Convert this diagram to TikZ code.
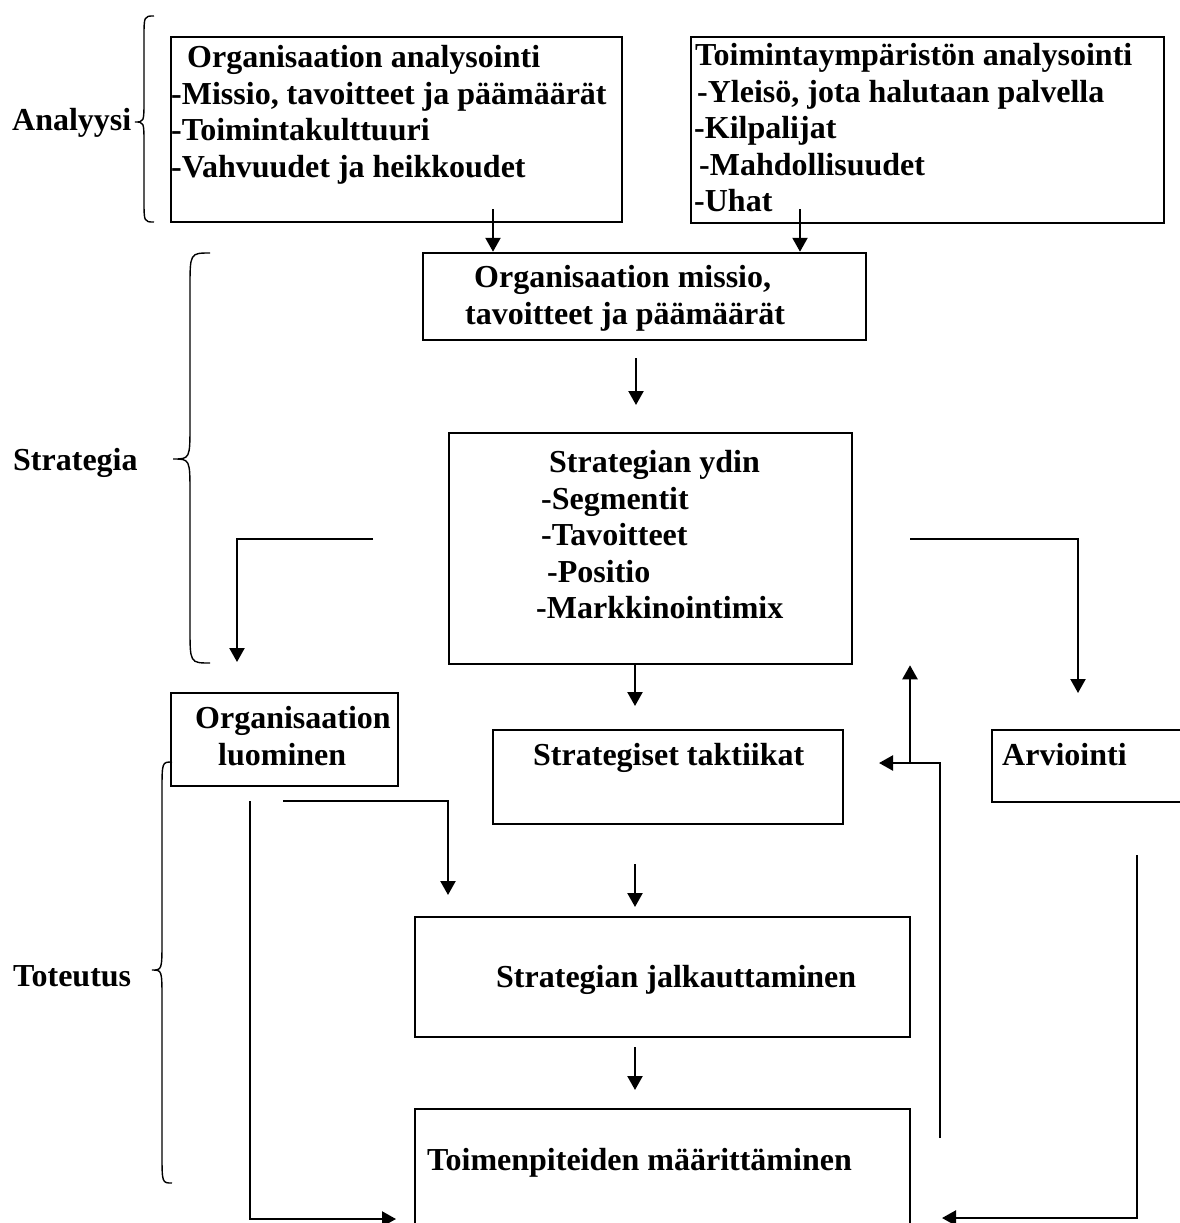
\documentclass[tikz,border=0pt]{standalone}
\usepackage{fontspec}
\setmainfont{Liberation Serif}
\usetikzlibrary{arrows.meta}
\tikzstyle{box}=[draw=black,line width=2.5pt,inner sep=0pt]
\tikzstyle{txt}=[inner sep=0pt,anchor=north west,align=left,
                 font=\fontsize{32}{36.6}\selectfont\bfseries]
\tikzstyle{arr}=[line width=2.3pt,-{Triangle[length=14pt,width=15pt]}]
\tikzstyle{brace}=[line width=1.4pt]

\begin{document}
\begin{tikzpicture}[x=1pt,y=-1pt]
    \useasboundingbox (0,0) rectangle (1180,1223);
    \newcommand{\brc}[7]{\draw[brace] (#1,#4) .. controls (#2,#4) .. (#2,#4+#7)
        -- (#2,#5-#7) .. controls (#2,#5) .. (#3,#5) .. controls (#2,#5) .. (#2,#5+#7)
        -- (#2,#6-#7) .. controls (#2,#6) .. (#1,#6);}
    % boxes
    \node (a1) at (396.5,129.5) [box,minimum width=451pt,minimum height=185pt]{};
    \node (a2) at (927.5,130) [box,minimum width=473pt,minimum height=186pt]{};
    \node (m) at (644.5,296.5) [box,minimum width=443pt,minimum height=87pt]{};
    \node (core) at (650.5,548.5) [box,minimum width=403pt,minimum height=231pt]{};
    \node (ol) at (284.5,739.5) [box,minimum width=227pt,minimum height=93pt]{};
    \node (st) at (668,777) [box,minimum width=350pt,minimum height=94pt]{};
    \node (arv) at (1092,766) [box,minimum width=200pt,minimum height=72pt]{};
    \node (sj) at (662.5,977) [box,minimum width=495pt,minimum height=120pt]{};
    \node (tm) at (662.5,1174.5) [box,minimum width=495pt,minimum height=131pt]{};
    % texts
    \node (a1t) at (171,45) [txt]{\hspace*{16pt}Organisaation analysointi\\
        -Missio, tavoitteet ja päämäärät\\-Toimintakulttuuri\\-Vahvuudet ja heikkoudet};
    \node (a2t) at (694,43) [txt]{\hspace*{1pt}Toimintaympäristön analysointi\\
        \hspace*{3pt}-Yleisö, jota halutaan palvella\\-Kilpalijat\\
        \hspace*{5pt}-Mahdollisuudet\\-Uhat};
    \node (mt) at (465,265) [txt]{\hspace*{9pt}Organisaation missio,\\tavoitteet ja päämäärät};
    \node (coret) at (536,450) [txt]{\hspace*{13pt}Strategian ydin\\\hspace*{5pt}-Segmentit\\
        \hspace*{5pt}-Tavoitteet\\\hspace*{11pt}-Positio\\-Markkinointimix};
    \node (olt) at (195,706) [txt]{Organisaation\\\hspace*{23pt}luominen};
    \node (stt) at (533,743) [txt]{Strategiset taktiikat};
    \node (arvt) at (1002,743) [txt]{Arviointi};
    \node (sjt) at (496,965) [txt]{Strategian jalkauttaminen};
    \node (tmt) at (427,1148) [txt]{Toimenpiteiden määrittäminen};
    % phases
    \node (an) at (12,108) [txt]{Analyysi};
    \node (str) at (13,448) [txt]{Strategia};
    \node (tot) at (13,965) [txt]{Toteutus};
    \brc{154}{144}{135}{16}{122}{222}{22}
    \brc{210}{190}{173}{253}{459}{663}{35}
    \brc{172}{162}{152}{762}{970}{1183}{30}
    % connectors
    \coordinate (p1) at (493,209);
    \coordinate (p2) at (800,209);
    \draw[arr] (p1) -- (p1 |- m.north);
    \draw[arr] (p2) -- (p2 |- m.north);
    \coordinate (m1) at (636,358);
    \coordinate (m2) at (636,405);
    \draw[arr] (m1) -- (m2);
    \coordinate (l1) at (373,539);
    \coordinate (l2) at (237,662);
    \draw[arr] (l1) -| (l2);
    \coordinate (r1) at (910,539);
    \coordinate (r2) at (1078,693);
    \draw[arr] (r1) -| (r2);
    \coordinate (c1) at (635,706);
    \draw[arr] (c1 |- core.south) -- (c1);
    \coordinate (s1) at (635,864);
    \coordinate (s2) at (635,907);
    \draw[arr] (s1) -- (s2);
    \coordinate (j1) at (635,1047);
    \coordinate (j2) at (635,1090);
    \draw[arr] (j1) -- (j2);
    \coordinate (o1) at (283,801);
    \coordinate (o2) at (448,895);
    \draw[arr] (o1) -| (o2);
    \coordinate (o3) at (250,801);
    \coordinate (t1) at (396,1219);
    \draw[arr] (o3) |- (t1);
    \coordinate (v1) at (1137,855);
    \coordinate (t2) at (942,1218);
    \draw[arr] (v1) |- (t2);
    \coordinate (f1) at (940,1138);
    \coordinate (f2) at (879,763);
    \coordinate (f3) at (910,763);
    \draw[arr] (f1) |- (f2);
    \draw[arr] (f3) -- (f3 |- core.south);
\end{tikzpicture}
\end{document}
